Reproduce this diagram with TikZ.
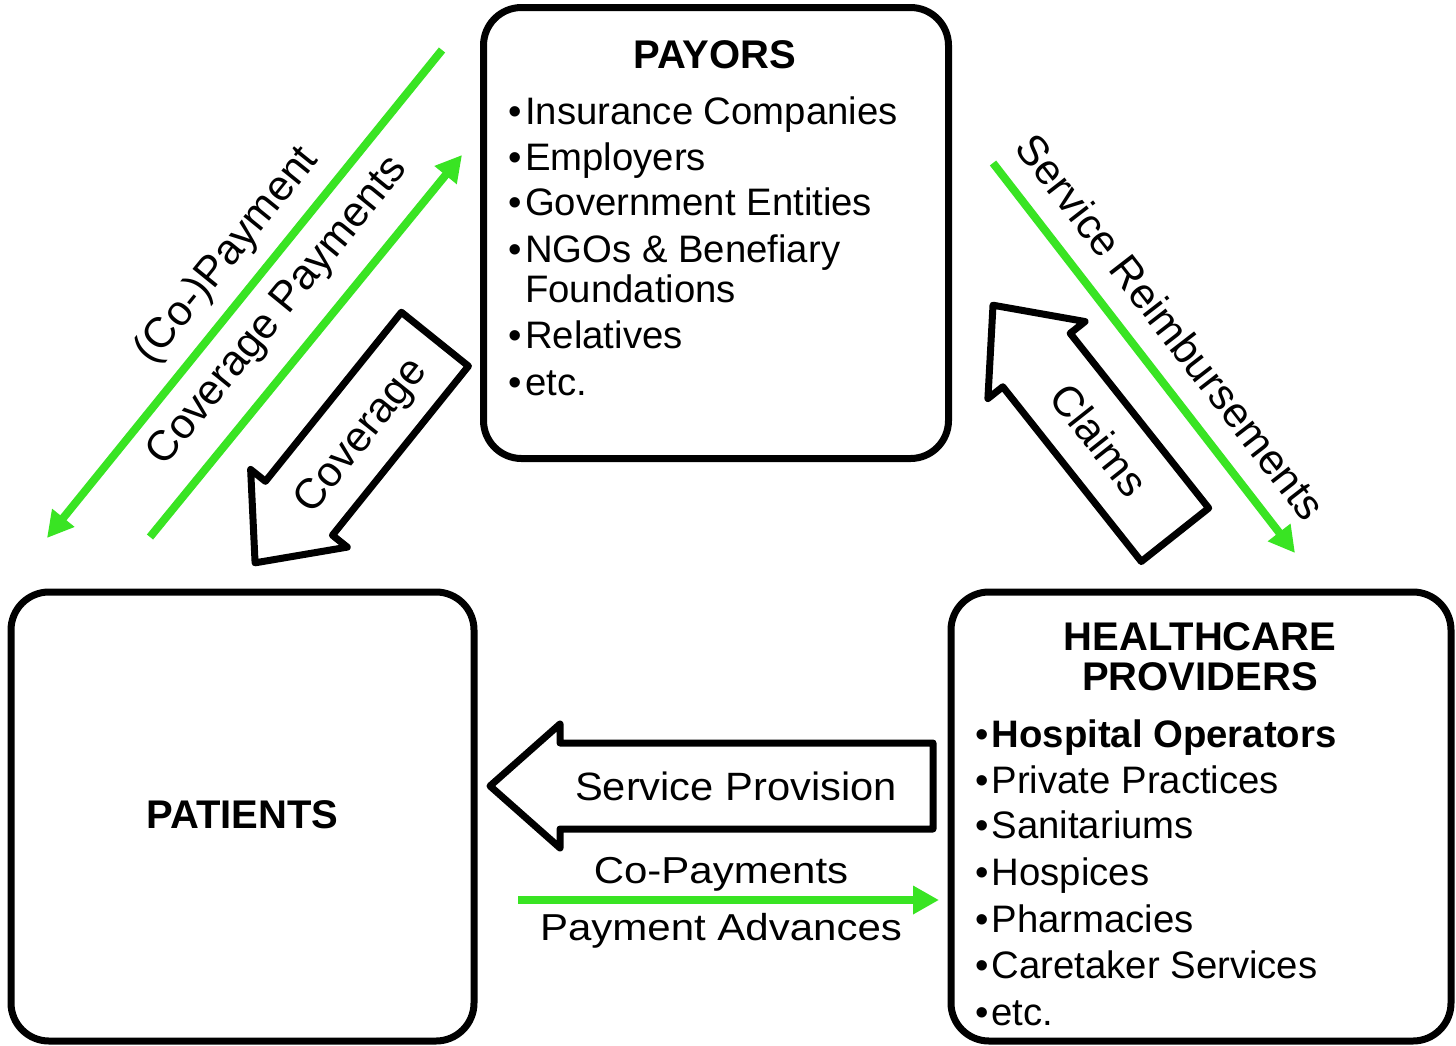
\documentclass[tikz,border=0pt]{standalone}
\usepackage{fontspec}
\setmainfont{Liberation Sans}
\usetikzlibrary{arrows.meta}
\definecolor{flowgreen}{RGB}{57,228,35}
\newcommand\bul{\makebox[16.5pt][l]{•}}
\newcommand\nobul{\hspace*{16.5pt}}
\newcommand\boxfont{\fontsize{38.3}{46}\selectfont}
\newcommand\ttlfont{\fontsize{40}{46}\selectfont\bfseries}
\newcommand\diagfont{\fontsize{42.5}{50}\selectfont}
\newcommand\spfont{\fontsize{39.5}{48}\selectfont\addfontfeature{FakeStretch=1.055}}
\newcommand\btmfont{\fontsize{37.5}{45}\selectfont\addfontfeature{FakeStretch=1.12}}
\tikzset{
  pics/blockarr/.style={code={
    \draw[line width=7pt, line join=round, fill=white]
      (-#1,0) -- (-#1+70,62) -- (-#1+70,43) -- (#1,43) -- (#1,-43)
      -- (-#1+70,-43) -- (-#1+70,-62) -- cycle;
  }},
  box/.style={draw, line width=7pt, rounded corners=38pt, inner sep=0pt},
  item/.style={anchor=base west, inner sep=0pt, font=\boxfont},
  ttl/.style={anchor=base, inner sep=0pt, font=\ttlfont},
  diaglbl/.style={inner sep=0pt, anchor=center, text height=30pt, text depth=0pt, font=\diagfont},
  splbl/.style={inner sep=0pt, anchor=center, text height=28.3pt, text depth=0pt, font=\spfont},
  btmlbl/.style={inner sep=0pt, anchor=base, font=\btmfont},
  flow/.style={draw=flowgreen, line width=8pt, -{Triangle[length=26pt,width=27pt]}}
}
\begin{document}
\begin{tikzpicture}[x=1pt,y=-1pt]
\fill[white] (0,0) rectangle (1456,1045);
\useasboundingbox (0,0) rectangle (1456,1045);

% boxes
\node[box, minimum width=465pt, minimum height=451pt] (payors) at (716,233) {};
\node[box, minimum width=463pt, minimum height=449pt] (patients) at (242.5,816.5) {};
\node[box, minimum width=500pt, minimum height=449pt] (providers) at (1201,816.5) {};

% payors text
\node[ttl] (payt) at (715,68) {PAYORS};
\node[item] (p1) at (508.5,124) {\bul Insurance Companies};
\node[item] (p2) at (508.5,170) {\bul Employers};
\node[item] (p3) at (508.5,215) {\bul Government Entities};
\node[item] (p4) at (508.5,262) {\bul NGOs \& Benefiary};
\node[item] (p4b) at (508.5,302) {\nobul Foundations};
\node[item] (p5) at (508.5,348) {\bul Relatives};
\node[item] (p6) at (508.5,395) {\bul etc.};

% patients text
\node[anchor=base, inner sep=0pt, font=\fontsize{40}{46}\selectfont\bfseries] (patt) at (242.5,828) {PATIENTS};

% providers text
\node[ttl] (hct1) at (1200,650) {HEALTHCARE};
\node[ttl] (hct2) at (1200,690) {PROVIDERS};
\node[item] (h1) at (975,747) {\bul\textbf{Hospital Operators}};
\node[item] (h2) at (975,793) {\bul Private Practices};
\node[item] (h3) at (975,838) {\bul Sanitariums};
\node[item] (h4) at (975,885) {\bul Hospices};
\node[item] (h5) at (975,932) {\bul Pharmacies};
\node[item] (h6) at (975,978) {\bul Caretaker Services};
\node[item] (h7) at (975,1025) {\bul etc.};

% block arrows
\pic[rotate=51.2] at (345,451) {blockarr=143.5};
\node[diaglbl, rotate=51.2] (covlbl) at (358.8,433.9) {Coverage};
\pic[rotate=-51.6] at (1084,420) {blockarr=146.5};
\node[diaglbl, rotate=-51.6] (clmlbl) at (1099.5,439.6) {Claims};
\pic at (711.5,786) {blockarr=221.5};
\node[splbl] (splbl) at (736,786) {Service Provision};

% green flows
\coordinate (cpA) at (442,50);  \coordinate (cpB) at (47,538);
\coordinate (cvA) at (150,537); \coordinate (cvB) at (462,155);
\coordinate (srA) at (993,163); \coordinate (srB) at (1295,553);
\coordinate (paA) at (518,900); \coordinate (paB) at (939,900);
\draw[flow] (cpA) -- (cpB);
\draw[flow] (cvA) -- (cvB);
\draw[flow] (srA) -- (srB);
\draw[flow] (paA) -- (paB);

\node[diaglbl, rotate=51] (cplbl) at (224.5,253.4) {(Co-)Payment};
\node[diaglbl, rotate=50.8] (cvlbl) at (275,309) {Coverage Payments};
\node[diaglbl, rotate=-52.25] (srlbl) at (1171,327) {Service Reimbursements};
\node[btmlbl] (cop) at (721,883) {Co-Payments};
\node[btmlbl] (pay) at (721,940) {Payment Advances};
\end{tikzpicture}
\end{document}
